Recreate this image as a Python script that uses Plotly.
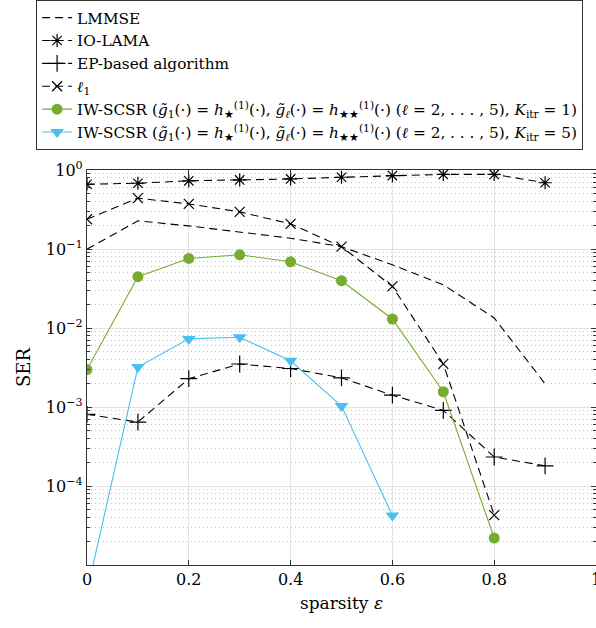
import plotly.graph_objects as go

x = [0, 0.1, 0.2, 0.3, 0.4, 0.5, 0.6, 0.7, 0.8, 0.9]

lmmse = [0.0995, 0.227, 0.196, 0.165, 0.137, 0.107, 0.063, 0.0353, 0.0134, 0.00197]
io_lama = [0.66, 0.68, 0.73, 0.748, 0.77, 0.81, 0.85, 0.88, 0.88, 0.69]
ep = [8.07e-4, 6.45e-4, 2.28e-3, 3.5e-3, 3.07e-3, 2.34e-3, 1.41e-3, 9.06e-4, 2.33e-4, 1.8e-4]
l1_x = [0, 0.1, 0.2, 0.3, 0.4, 0.5, 0.6, 0.7, 0.8]
l1 = [0.238, 0.44, 0.372, 0.295, 0.208, 0.107, 0.0336, 0.00352, 4.28e-5]
iw1_x = [0, 0.1, 0.2, 0.3, 0.4, 0.5, 0.6, 0.7, 0.8]
iw1 = [2.98e-3, 0.0446, 0.0759, 0.0845, 0.0689, 0.0397, 0.013, 1.56e-3, 2.19e-5]
iw5_x = [0, 0.1, 0.2, 0.3, 0.4, 0.5, 0.6]
iw5 = [4.6e-6, 3.2e-3, 7.28e-3, 7.63e-3, 3.84e-3, 1.03e-3, 4.24e-5]

x_ticks = [0, 0.2, 0.4, 0.6, 0.8, 1]
x_ticktext = ["0", "0.2", "0.4", "0.6", "0.8", "1"]
y_ticks = [1e-5, 1e-4, 1e-3, 1e-2, 1e-1, 1e0]
y_ticktext = ["", "10<sup>−4</sup>", "10<sup>−3</sup>", "10<sup>−2</sup>", "10<sup>−1</sup>", "10<sup>0</sup>"]

GREEN = "#77AC30"
BLUE = "#4DBEEE"
DASH = "8px,5px"
FONT = "DejaVu Serif"
STAR = "★"


def iw_name(k):
    return ("IW-SCSR (<i>g̃</i><sub>1</sub>(·) = <i>h</i><sub>" + STAR + "</sub><sup>(1)</sup>(·), "
            "<i>g̃</i><sub><i>ℓ</i></sub>(·) = <i>h</i><sub>" + STAR + STAR + "</sub><sup>(1)</sup>(·) "
            "(<i>ℓ</i> = 2, . . . , 5), <i>K</i><sub>itr</sub> = " + str(k) + ")")


fig = go.Figure()
fig.add_trace(go.Scatter(x=x, y=lmmse, mode="lines", name="LMMSE",
                         line=dict(color="black", width=1.1, dash=DASH)))
fig.add_trace(go.Scatter(x=x, y=io_lama, mode="lines+markers", name="IO-LAMA",
                         line=dict(color="black", width=1.1, dash=DASH),
                         marker=dict(symbol="asterisk-open", size=11, color="black",
                                     line=dict(color="black", width=1.2))))
fig.add_trace(go.Scatter(x=x, y=ep, mode="lines+markers", name="EP-based algorithm",
                         line=dict(color="black", width=1.1, dash=DASH),
                         marker=dict(symbol="cross-thin-open", size=12, color="black",
                                     line=dict(color="black", width=1.2))))
fig.add_trace(go.Scatter(x=l1_x, y=l1, mode="lines+markers", name="<i>ℓ</i><sub>1</sub>",
                         line=dict(color="black", width=1.1, dash=DASH),
                         marker=dict(symbol="x-thin-open", size=10, color="black",
                                     line=dict(color="black", width=1.2))))
fig.add_trace(go.Scatter(x=iw1_x, y=iw1, mode="lines+markers", name=iw_name(1),
                         line=dict(color=GREEN, width=1.1),
                         marker=dict(symbol="circle", size=11, color=GREEN)))
fig.add_trace(go.Scatter(x=iw5_x, y=iw5, mode="lines+markers", name=iw_name(5),
                         line=dict(color=BLUE, width=1.1),
                         marker=dict(symbol="triangle-down", size=12, color=BLUE)))

minor_vals = [m * 10.0 ** e for e in range(-5, 0) for m in range(2, 10)]

fig.update_layout(
    width=596, height=628,
    margin=dict(l=87, r=0, t=170, b=63, autoexpand=False),
    paper_bgcolor="white", plot_bgcolor="white",
    font=dict(family=FONT, size=16, color="black"),
    showlegend=True,
    legend=dict(x=-0.1, y=1.43, xanchor="left", yanchor="top",
                bordercolor="#333333", borderwidth=1, bgcolor="white",
                font=dict(family=FONT, size=15.3), tracegroupgap=0,
                itemwidth=30),
    xaxis=dict(range=[0, 1], tickvals=x_ticks, ticktext=x_ticktext,
               showgrid=True, gridcolor="#e3e3e3", gridwidth=1,
               ticks="inside", ticklen=5, tickcolor="#333333",
               showline=True, linecolor="#333333", linewidth=1.2, mirror="ticks",
               zeroline=False, tickfont=dict(size=16), ticklabeloverflow="allow",
               automargin=False,
               title=dict(text="sparsity <i>ε</i>", font=dict(size=17), standoff=8)),
    yaxis=dict(type="log", range=[-5, 0], tickvals=y_ticks, ticktext=y_ticktext,
               showgrid=True, gridcolor="#e3e3e3", gridwidth=1,
               ticks="inside", ticklen=5, tickcolor="#333333",
               showline=True, linecolor="#333333", linewidth=1.2, mirror="ticks",
               zeroline=False, tickfont=dict(size=16), automargin=False,
               minor=dict(tickvals=minor_vals, showgrid=True, gridcolor="#c4c4c4",
                          griddash="1px,3px", gridwidth=1, ticks="inside", ticklen=3,
                          tickcolor="#333333"),
               title=dict(text="SER", font=dict(size=18), standoff=10)),
)

fig.write_html("out.html")
